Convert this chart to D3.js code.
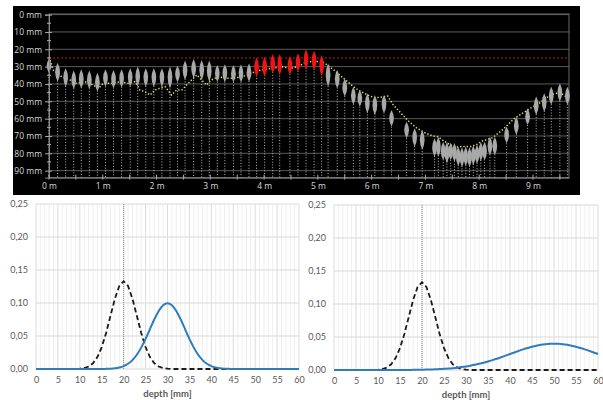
<!DOCTYPE html>
<html><head><meta charset="utf-8">
<script src="https://cdn.jsdelivr.net/npm/d3@7"></script>
<style>body{margin:0;background:#fff;} svg{display:block;}</style>
</head><body>
<svg id="chart" width="603" height="400"></svg>
<script>
// ---------- top panel data ----------
const depthTicks = [0,10,20,30,40,50,60,70,80,90];
const depthMinor = [5,15,25,35,45,55,65,75,85];
const meterTicks = [0,1,2,3,4,5,6,7,8,9];
const meterMinor = [0.5,1.5,2.5,3.5,4.5,5.5,6.5,7.5,8.5,9.5];
const threshold = 25;

const blobPos = [0.00,0.16,0.31,0.46,0.60,0.75,0.90,1.05,1.20,1.35,1.51,1.65,1.80,1.95,2.10,2.25,2.39,2.53,2.69,2.84,2.98,3.13,3.27,3.43,3.57,3.72,
  3.86,4.01,4.16,4.29,4.48,4.63,4.78,4.93,5.07,
  5.19,5.36,5.50,5.66,5.78,5.92,6.06,6.23,6.37,6.65,6.80,6.94,7.17,7.24,7.33,7.40,7.47,7.54,7.61,7.68,7.75,7.82,7.89,7.96,8.03,8.10,8.20,8.29,8.51,8.69,8.90,9.06,9.21,9.34,9.50,9.64];
const blobTop = [25.5,27.7,31,32.3,31.5,32.3,33.5,31.5,31.9,31.5,31,30,31,31,31,30,29.5,26.5,25.6,26.2,26.5,29,28.7,29,28.8,28.2,
  24.6,24.2,22.7,22.7,23.9,22.3,20,20.8,23.3,
  28.1,31.9,36.8,41.6,43.5,45.4,46.4,46.4,55,61.8,65.6,66.6,71.3,70.4,73.3,73.3,73.9,74,76,76.5,76,76.5,75.5,75,73.5,73.3,70.4,70.4,64.6,58.9,54,47.3,45.4,41.6,39.6,41.6];
const blobBottom = [33.5,38.7,41.6,43,42.5,43,44.4,41.6,42.5,42,41.6,41.2,41.6,41.6,41.6,42.5,39,37.7,36.7,37.7,38.7,38.7,39,39,39,38.7,
  35.8,35.8,33.9,34.8,34.8,32.9,31.6,32,35.4,
  41.6,42.5,47.3,52,53.1,56.9,57.9,56.9,64.6,71.3,76.2,78,82,82,84,85.8,84,85,87.5,88,87.5,88,87,86,84.5,84,81,81,74.2,69.4,63.7,57.9,56,52,50.2,52];

const meanPos = [0.00,0.04,0.08,0.17,0.24,0.39,0.51,0.67,0.82,0.92,1.01,1.17,1.32,1.47,1.60,1.69,1.78,1.88,1.97,2.06,2.16,2.28,2.37,2.47,2.56,2.65,2.75,2.87,2.93,3.02,3.15,3.27,3.43,3.58,3.70,3.83,3.95,4.14,4.33,4.48,4.63,4.79,4.95,5.07,
  5.15,5.30,5.45,5.60,5.75,5.90,6.05,6.20,6.30,6.40,6.55,6.67,6.82,6.98,7.14,7.24,7.30,7.40,7.55,7.70,7.85,7.95,8.05,8.25,8.45,8.65,8.80,8.95,9.10,9.25,9.35,9.50,9.60,9.67];
const meanDepth = [24.5,28,32,34,36,37.7,39.6,38.7,40.6,42.5,39.6,39.6,38.7,39.6,38.7,43.5,44.4,46.4,43.5,42.5,41.6,46.4,43.5,43.5,40.6,37.7,34.8,38.7,40.6,37.7,35.8,36.7,36.7,35.8,34.8,32.9,31.9,31,30,31,30,27.2,27,27,
  28.5,32,36,40,43.5,46,48,47.5,47,52,57,61,65,68,70,70.5,72,74,76.5,76,76,75,73,71,66,60,57,54,51.5,48,46,45,47,49];

// ---------- bottom panels data ----------
const depthMm = [0,1,2,3,4,5,6,7,8,9,10,11,12,13,14,15,16,17,18,19,20,21,22,23,24,25,26,27,28,29,30,31,32,33,34,35,36,37,38,39,40,41,42,43,44,45,46,47,48,49,50,51,52,53,54,55,56,57,58,59,60];
const refDensity = [0,0,0,0,0,0,0,0,0,0,0.0005,0.0015,0.0038,0.0087,0.0180,0.0332,0.0547,0.0807,0.1065,0.1258,0.1330,0.1258,0.1065,0.0807,0.0547,0.0332,0.0180,0.0087,0.0038,0.0015,0.0005,
  0,0,0,0,0,0,0,0,0,0,0,0,0,0,0,0,0,0,0,0,0,0,0,0,0,0,0,0,0,0];
const leftDensity = [0,0,0,0,0,0,0,0,0,0,0,0,0,0,0,0,0.0002,0.0005,0.0011,0.0023,0.0044,0.0079,0.0135,0.0216,0.0324,0.0456,0.0605,0.0753,0.0880,0.0966,0.0997,0.0966,0.0880,0.0753,0.0605,0.0456,0.0324,0.0216,0.0135,0.0079,0.0044,0.0023,0.0011,0.0005,0.0002,
  0,0,0,0,0,0,0,0,0,0,0,0,0,0,0,0];
const rightDensity = [0,0,0,0,0,0,0,0,0,0,0,0,0,0,0,0,0,0,0.0002,0.0003,0.0004,0.0006,0.0008,0.0010,0.0014,0.0018,0.0022,0.0028,0.0035,0.0044,0.0054,0.0066,0.0079,0.0094,0.0111,0.0130,0.0150,0.0171,0.0194,0.0218,0.0242,0.0266,0.0290,0.0313,0.0334,0.0352,0.0368,0.0381,0.0391,0.0397,0.0399,0.0397,0.0391,0.0381,0.0368,0.0352,0.0334,0.0313,0.0290,0.0266,0.0242];
const xTicksBottom = [0,5,10,15,20,25,30,35,40,45,50,55,60];
const yTicksBottom = [0,0.05,0.10,0.15,0.20,0.25];
const refDepth = 20;
const xTitle = "depth [mm]";

const svg = d3.select("#chart");

// ================= TOP PANEL =================
svg.append("rect").attr("x",13).attr("y",6).attr("width",567).attr("height",189).attr("fill","#000");
const x = d3.scaleLinear().domain([0,9.67]).range([49,569]);
const y = d3.scaleLinear().domain([0,94]).range([14.6,177.6]);
const topG = svg.append("g");

topG.selectAll("line.grid").data(depthTicks).join("line")
  .attr("x1",x(0)).attr("x2",x.range()[1]).attr("y1",d=>y(d)).attr("y2",d=>y(d))
  .attr("stroke","#5a5a5a").attr("stroke-width",1);
topG.append("rect").attr("x",x(0)).attr("y",14).attr("width",x.range()[1]-x(0)).attr("height",y(94)-14)
  .attr("fill","none").attr("stroke","#6a6a6a");

topG.append("line").attr("x1",x(0)).attr("x2",x.range()[1]).attr("y1",y(threshold)).attr("y2",y(threshold))
  .attr("stroke","#c01818").attr("stroke-width",1).attr("stroke-dasharray","2,2");

topG.selectAll("line.drop").data(blobPos).join("line")
  .attr("x1",d=>x(d)).attr("x2",d=>x(d))
  .attr("y1",(d,i)=>y((blobTop[i]+blobBottom[i])/2)).attr("y2",y(94))
  .attr("stroke","#d0d0d0").attr("stroke-width",0.9).attr("stroke-dasharray","1,1.8");

const meanLine = d3.line().x(d=>x(d[0])).y(d=>y(d[1]));
topG.append("path").attr("d",meanLine(meanPos.map((p,i)=>[p,meanDepth[i]])))
  .attr("fill","none").attr("stroke","#e4e46e").attr("stroke-width",1.5).attr("stroke-dasharray","1.3,2");

topG.selectAll("path.blob").data(blobPos).join("path")
  .attr("d",(d,i)=>{
    const cx=x(d), t=y(blobTop[i]), b=y(blobBottom[i]), m=(t+b)/2, w=2.4;
    return `M${cx},${t} Q${cx+2*w},${m} ${cx},${b} Q${cx-2*w},${m} ${cx},${t}Z`;
  })
  .attr("fill",(d,i)=>blobTop[i] < threshold ? "#f01414" : "#a9a9a9");

const axL = topG.append("g").attr("transform",`translate(${x(0)},0)`)
  .call(d3.axisLeft(y).tickValues(depthTicks).tickFormat(d=>d+" mm").tickSize(4).tickPadding(3));
axL.select(".domain").attr("stroke","#8a8a8a");
axL.selectAll(".tick line").attr("stroke","#aaa").attr("x2",-4).attr("x1",3);
axL.selectAll("text").attr("fill","#d8d8d8").style("font","8.5px 'Open Sans', sans-serif");
topG.selectAll("line.minorL").data(depthMinor).join("line")
  .attr("x1",x(0)-2).attr("x2",x(0)+2).attr("y1",d=>y(d)).attr("y2",d=>y(d)).attr("stroke","#aaa");

const axB = topG.append("g").attr("transform",`translate(0,${y(94)})`)
  .call(d3.axisBottom(x).tickValues(meterTicks).tickFormat(d=>d+" m").tickSizeInner(0).tickSizeOuter(0).tickPadding(5));
axB.select(".domain").attr("stroke","#8a8a8a");
axB.selectAll("text").attr("fill","#d8d8d8").style("font","8.5px 'Open Sans', sans-serif");
topG.selectAll("line.tickB").data(meterTicks.concat(meterMinor)).join("line")
  .attr("x1",d=>x(d)).attr("x2",d=>x(d)).attr("y1",y(94)-3).attr("y2",y(94)+2).attr("stroke","#aaa");

// ================= BOTTOM PANELS =================
function density(ox0, ox1, oy0, oy1, blue){
  const xs = d3.scaleLinear().domain([0,60]).range([ox0,ox1]);
  const ys = d3.scaleLinear().domain([0,0.25]).range([oy0,oy1]);
  const g = svg.append("g");
  g.selectAll("line.vg").data(depthMm).join("line")
    .attr("x1",d=>xs(d)).attr("x2",d=>xs(d)).attr("y1",ys(0)).attr("y2",ys(0.25))
    .attr("stroke",d=>d%5===0?"#dcdcdc":"#efefef").attr("stroke-width",1);
  g.selectAll("line.hg").data(yTicksBottom).join("line")
    .attr("x1",xs(0)).attr("x2",xs(60)).attr("y1",d=>ys(d)).attr("y2",d=>ys(d))
    .attr("stroke","#d9d9d9").attr("stroke-width",1);
  g.append("line").attr("x1",xs(refDepth)).attr("x2",xs(refDepth)).attr("y1",ys(0)).attr("y2",ys(0.25))
    .attr("stroke","#8c8c8c").attr("stroke-width",1).attr("stroke-dasharray","1,1");
  const ax = g.append("g").attr("transform",`translate(0,${ys(0)})`)
    .call(d3.axisBottom(xs).tickValues(xTicksBottom).tickSize(0).tickPadding(8));
  ax.select(".domain").remove();
  ax.selectAll("text").attr("fill","#595959").style("font","9px Lato, sans-serif");
  const ay = g.append("g").attr("transform",`translate(${ox0},0)`)
    .call(d3.axisLeft(ys).tickValues(yTicksBottom).tickFormat(d=>d3.format(".2f")(d).replace(".",",")).tickSize(0).tickPadding(8));
  ay.select(".domain").remove();
  ay.selectAll("text").attr("fill","#595959").style("font","9px Lato, sans-serif");
  g.append("text").attr("x",(ox0+ox1)/2).attr("y",oy0+28).attr("text-anchor","middle")
    .attr("fill","#595959").style("font","bold 9.5px Lato, sans-serif").text(xTitle);
  const ln = d3.line().x((d,i)=>xs(depthMm[i])).y(d=>ys(d));
  g.append("path").attr("d",ln(refDensity)).attr("fill","none").attr("stroke","#1a1a1a")
    .attr("stroke-width",1.8).attr("stroke-dasharray","5,3");
  g.append("path").attr("d",ln.curve(d3.curveMonotoneX)(blue)).attr("fill","none").attr("stroke","#2e7bbf")
    .attr("stroke-width",2);
}
density(36,299,369,204,leftDensity);
density(334,598,370,205,rightDensity);
</script>
</body></html>
